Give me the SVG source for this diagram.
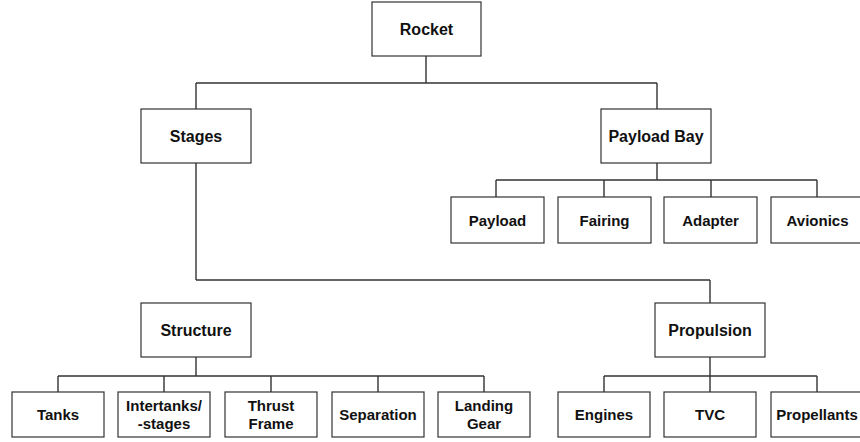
<svg xmlns="http://www.w3.org/2000/svg" width="860" height="442" viewBox="0 0 860 442">
<style>
rect{fill:#fff;stroke:#333;stroke-width:1.2}
text{font-family:"Liberation Sans",Arial,sans-serif;font-weight:bold;fill:#111;text-anchor:middle}
.p{font-size:16px}
.c{font-size:15px}
#connectors path{fill:none;stroke:#333;stroke-width:1.4}
</style>
<rect x="0" y="0" width="860" height="442" style="fill:#fff;stroke:none"/>
<g id="connectors">
<path d="M426,56V83M196,83H657M196,83V109M657,83V109"/>
<path d="M657,163V180M496,180H817M496,180V197M604,180V197M711,180V197M817,180V197"/>
<path d="M196,163V280M196,280H710M710,280V303"/>
<path d="M196,357V376M58,376H484M58,376V392M164,376V392M271,376V392M378,376V392M484,376V392"/>
<path d="M710,357V376M604,376H817M604,376V392M710,376V392M817,376V392"/>
</g>
<g id="rocket"><rect x="372" y="2" width="109" height="54"/><text class="p" x="426.5" y="34.5">Rocket</text></g>
<g id="stages"><rect x="141" y="109" width="110" height="54"/><text class="p" x="196" y="141.5">Stages</text></g>
<g id="payloadbay"><rect x="601" y="109" width="110" height="54"/><text class="p" x="656" y="141.5">Payload Bay</text></g>
<g id="payload"><rect x="451" y="197" width="93" height="46"/><text class="c" x="497.5" y="225.5">Payload</text></g>
<g id="fairing"><rect x="558" y="197" width="93" height="46"/><text class="c" x="604.5" y="225.5">Fairing</text></g>
<g id="adapter"><rect x="664" y="197" width="93" height="46"/><text class="c" x="710.5" y="225.5">Adapter</text></g>
<g id="avionics"><rect x="771" y="197" width="93" height="46"/><text class="c" x="817.5" y="225.5">Avionics</text></g>
<g id="structure"><rect x="141" y="303" width="110" height="54"/><text class="p" x="196" y="335.5">Structure</text></g>
<g id="propulsion"><rect x="655" y="303" width="110" height="54"/><text class="p" x="710" y="335.5">Propulsion</text></g>
<g id="tanks"><rect x="12" y="392" width="92" height="45"/><text class="c" x="58" y="420">Tanks</text></g>
<g id="intertanks"><rect x="118" y="392" width="92" height="45"/><text class="c" x="164" y="410.5">Intertanks/</text><text class="c" x="164" y="428.5">-stages</text></g>
<g id="thrustframe"><rect x="225" y="392" width="92" height="45"/><text class="c" x="271" y="410.5">Thrust</text><text class="c" x="271" y="428.5">Frame</text></g>
<g id="separation"><rect x="332" y="392" width="92" height="45"/><text class="c" x="378" y="420">Separation</text></g>
<g id="landinggear"><rect x="438" y="392" width="92" height="45"/><text class="c" x="484" y="410.5">Landing</text><text class="c" x="484" y="428.5">Gear</text></g>
<g id="engines"><rect x="558" y="392" width="92" height="45"/><text class="c" x="604" y="420">Engines</text></g>
<g id="tvc"><rect x="664" y="392" width="92" height="45"/><text class="c" x="710" y="420">TVC</text></g>
<g id="propellants"><rect x="771" y="392" width="92" height="45"/><text class="c" x="817" y="420">Propellants</text></g>
</svg>
